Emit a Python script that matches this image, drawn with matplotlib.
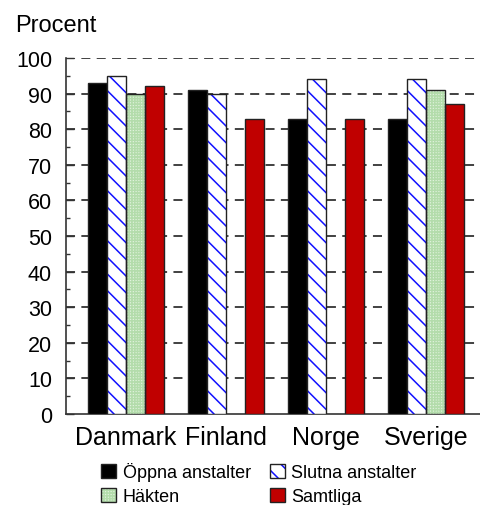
import numpy as np
import matplotlib
matplotlib.use("Agg")
import matplotlib.pyplot as plt
from matplotlib.patches import Patch
from matplotlib.legend_handler import HandlerTuple
from matplotlib.ticker import MultipleLocator

plt.rcParams["font.family"] = ["Liberation Sans", "DejaVu Sans"]
plt.rcParams["hatch.linewidth"] = 1.1

countries = ["Danmark", "Finland", "Norge", "Sverige"]
series = ["Öppna anstalter", "Slutna anstalter", "Häkten", "Samtliga"]
oppna = [93, 91, 83, 83]
slutna = [95, 90, 94, 94]
hakten = [90, np.nan, np.nan, 91]
samtliga = [92, 83, 83, 87]

styles = {
    "Öppna anstalter": dict(facecolor="black", hatch=None, hatchcolor=None),
    "Slutna anstalter": dict(facecolor="white", hatch="\\\\", hatchcolor="#1010ff"),
    "Häkten": dict(facecolor="#e2f3de", hatch="++++++", hatchcolor="#b3dcab"),
    "Samtliga": dict(facecolor="#c00000", hatch=None, hatchcolor=None),
}

fig = plt.figure(figsize=(4.81, 5.06), dpi=100)
ax = fig.add_axes([66 / 481, 91 / 506, 420 / 481, 356 / 506])

x = np.arange(len(countries))
width = 0.19
values = [oppna, slutna, hakten, samtliga]
for i, (name, vals) in enumerate(zip(series, values)):
    st = styles[name]
    pos = x + (i - 1.5) * width
    if st["hatch"]:
        # hatch drawn first in its own colour, black outline on top
        ax.bar(pos, vals, width, facecolor=st["facecolor"], edgecolor=st["hatchcolor"],
               hatch=st["hatch"], linewidth=0, zorder=3)
        ax.bar(pos, vals, width, facecolor="none", edgecolor="#222222",
               linewidth=1.0, zorder=4)
    else:
        ax.bar(pos, vals, width, facecolor=st["facecolor"], edgecolor="#222222",
               linewidth=1.0, zorder=3)

ax.set_xlim(-0.6, 3.6)
ax.set_ylim(0, 100)
ax.yaxis.set_major_locator(MultipleLocator(10))
ax.yaxis.set_minor_locator(MultipleLocator(5))
ax.set_xticks(x)
ax.set_xticklabels(countries, fontsize=18)
ax.tick_params(axis="x", length=0, pad=8)
ax.tick_params(axis="y", which="major", direction="in", length=6, width=1.0,
               labelsize=15.5, pad=10, color="#333333")
ax.tick_params(axis="y", which="minor", direction="in", length=3, width=1.0,
               color="#333333")

for v in range(10, 101, 10):
    ax.axhline(v, color="#333333", linewidth=1.3, linestyle=(0, (5, 3.5)), zorder=1)

for side in ("top", "right"):
    ax.spines[side].set_visible(False)
for side in ("left", "bottom"):
    ax.spines[side].set_color("#333333")
    ax.spines[side].set_linewidth(1.2)

fig.text(15 / 481, 1 - 32 / 506, "Procent", fontsize=17, va="baseline", ha="left")

handles = {}
for name in series:
    st = styles[name]
    outline = Patch(facecolor="none" if st["hatch"] else st["facecolor"],
                    edgecolor="#222222", linewidth=1.0)
    if st["hatch"]:
        fill = Patch(facecolor=st["facecolor"], edgecolor=st["hatchcolor"],
                     hatch=st["hatch"], linewidth=0)
        handles[name] = (fill, outline)
    else:
        handles[name] = outline
order = ["Öppna anstalter", "Häkten", "Slutna anstalter", "Samtliga"]
fig.legend([handles[n] for n in order], order, ncol=2, frameon=False,
           loc="upper left", bbox_to_anchor=(101 / 481, 1 - 463 / 506),
           fontsize=13, borderpad=0, borderaxespad=0, handlelength=0.85,
           handleheight=0.85, handletextpad=0.35, columnspacing=1.05,
           labelspacing=0.36, handler_map={tuple: HandlerTuple(ndivide=1, pad=0)})

fig.savefig("out.png", dpi=100)
